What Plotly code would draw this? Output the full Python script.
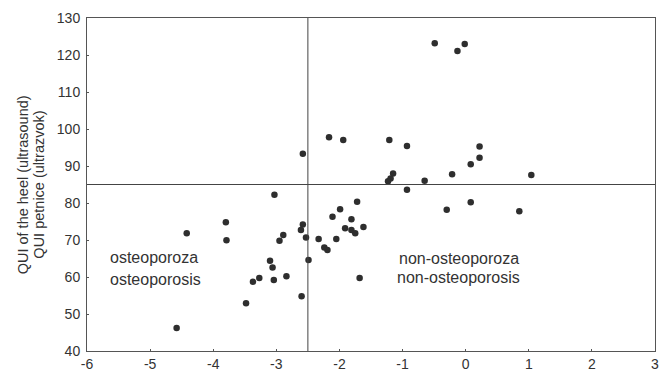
import plotly.graph_objects as go

x_vals = [-4.58, -4.42, -3.80, -3.79, -3.48, -3.37, -3.27, -3.10, -3.06, -3.04,
          -3.03, -2.95, -2.89, -2.84, -2.60, -2.58, -2.61, -2.53, -2.49, -2.58,
          -2.33, -2.24, -2.19, -2.11, -2.05, -1.99, -1.91, -1.81, -1.81, -1.75,
          -1.72, -1.68, -1.62, -2.165, -1.94, -1.21, -0.93, -1.15, -1.19, -1.23,
          -0.65, -0.93, -0.49, -0.015, -0.13, 0.22, 0.22, 0.08, -0.215, 1.04,
          0.08, -0.30, 0.85]
y_vals = [46.2, 71.8, 74.8, 69.9, 52.9, 58.7, 59.7, 64.4, 62.6, 59.2,
          82.2, 69.8, 71.35, 60.2, 54.8, 74.2, 72.7, 70.7, 64.6, 93.3,
          70.3, 68.0, 67.3, 76.3, 70.3, 78.3, 73.2, 75.6, 72.7, 71.8,
          80.35, 59.7, 73.5, 97.75, 97.0, 97.0, 95.4, 88.0, 86.6, 85.9,
          86.0, 83.6, 123.2, 123.0, 121.1, 95.3, 92.2, 90.5, 87.8, 87.6,
          80.2, 78.2, 77.8]

x_ticks = [-6, -5, -4, -3, -2, -1, 0, 1, 2, 3]
y_ticks = [40, 50, 60, 70, 80, 90, 100, 110, 120, 130]
x_cut = -2.5
y_cut = 85
y_title_lines = ["QUI of the heel (ultrasound)", "QUI petnice (ultrazvok)"]

FONT = "Liberation Sans, Arial, sans-serif"
AX = "#555555"
TXT = "#333333"

fig = go.Figure()
fig.add_trace(go.Scatter(
    x=x_vals, y=y_vals, mode="markers",
    marker=dict(size=6.5, color="#2e2e2e", line=dict(width=0)),
    showlegend=False, hoverinfo="skip", cliponaxis=False))

fig.add_shape(type="line", xref="x", yref="paper", x0=x_cut, x1=x_cut, y0=0, y1=1,
              line=dict(color="#444444", width=1))
fig.add_shape(type="line", xref="paper", yref="y", x0=0, x1=1, y0=y_cut, y1=y_cut,
              line=dict(color="#444444", width=1))

ann_font = dict(family=FONT, size=16, color=TXT)
fig.add_annotation(x=-5.67, y=65.4, text="osteoporoza", showarrow=False,
                   xanchor="left", yanchor="middle", font=ann_font)
fig.add_annotation(x=-5.67, y=59.2, text="osteoporosis", showarrow=False,
                   xanchor="left", yanchor="middle", font=ann_font)
fig.add_annotation(x=-1.09, y=64.9, text="non-osteoporoza", showarrow=False,
                   xanchor="left", yanchor="middle", font=ann_font)
fig.add_annotation(x=-1.12, y=60.0, text="non-osteoporosis", showarrow=False,
                   xanchor="left", yanchor="middle", font=ann_font)

title_font = dict(family=FONT, size=14.5, color=TXT)
fig.add_annotation(xref="paper", yref="paper", x=-0.113, y=0.5,
                   text=y_title_lines[0], textangle=-90, showarrow=False,
                   xanchor="center", yanchor="middle", font=title_font)
fig.add_annotation(xref="paper", yref="paper", x=-0.086, y=0.5,
                   text=y_title_lines[1], textangle=-90, showarrow=False,
                   xanchor="center", yanchor="middle", font=title_font)

tick_font = dict(family=FONT, size=14, color=TXT)
fig.update_xaxes(range=[-6, 3], tickvals=x_ticks, ticktext=[str(t) for t in x_ticks],
                 ticks="inside", ticklen=2, tickcolor=AX, showline=True, linecolor=AX,
                 linewidth=1, mirror=True, showgrid=False, zeroline=False,
                 tickfont=tick_font, automargin=False)
fig.update_yaxes(range=[40, 130], tickvals=y_ticks, ticktext=[str(t) for t in y_ticks],
                 ticks="inside", ticklen=2, tickcolor=AX, showline=True, linecolor=AX,
                 linewidth=1, mirror=True, showgrid=False, zeroline=False,
                 tickfont=tick_font, automargin=False, ticklabelstandoff=3)

fig.update_layout(width=660, height=372, margin=dict(l=87, r=5, t=18, b=21),
                  paper_bgcolor="white", plot_bgcolor="white")

fig.write_html("out.html", config={"displayModeBar": False},
               post_script="document.body.style.margin='0';document.body.style.overflow='hidden';")
